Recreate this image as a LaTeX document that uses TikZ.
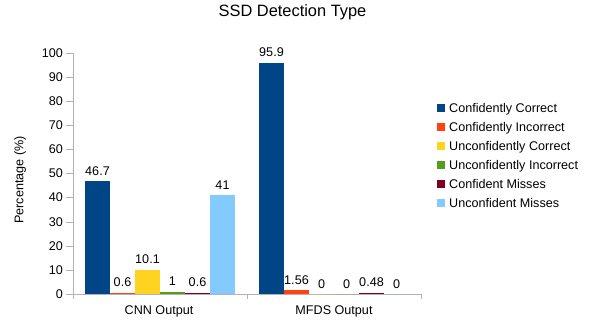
\documentclass[tikz,border=0pt]{standalone}
\usepackage{fontspec}
\setmainfont{Liberation Sans}
\usepackage{xcolor}
\definecolor{bar_blue}{HTML}{004586}
\definecolor{bar_orange}{HTML}{FF420E}
\definecolor{bar_yellow}{HTML}{FFD320}
\definecolor{bar_green}{HTML}{579D1C}
\definecolor{bar_maroon}{HTML}{7E0021}
\definecolor{bar_sky}{HTML}{83CAFF}
\definecolor{axis_gray}{HTML}{B3B3B3}

\begin{document}
\begin{tikzpicture}[x=1pt, y=1pt, font=\fontsize{12.6}{15}\selectfont,
    lbl/.style={inner sep=0pt}]
      \useasboundingbox (0,0) rectangle (593,324);
      % Title
      \node[lbl] (title) at (292.5,312) {\fontsize{16.4}{19}\selectfont SSD Detection Type};
      % Draw the axes
      \draw[axis_gray] (73,30) -- (73,271);
      \draw[axis_gray] (73,30) -- (421,30);
      % Y ticks with their values
      \foreach \v in {0,10,...,100} {
        \draw[axis_gray] (66,{30+2.41*\v}) -- (73,{30+2.41*\v});
        \node[lbl, anchor=east] (ytick\v) at (63,{30+2.41*\v}) {\v};
      }
      \node[lbl, rotate=90] (ylabel) at (20,144) {Percentage (\%)};
      % Category ticks and names
      \foreach \x in {73,247,421}
        \draw[axis_gray] (\x,30) -- (\x,25);
      \node[lbl] (cnn) at (159,13) {CNN Output};
      \node[lbl] (mfds) at (334,13) {MFDS Output};
      % Bars for CNN Output
      \foreach \col/\val [count=\i from 0] in {bar_blue/46.7, bar_orange/0.6, bar_yellow/10.1, bar_green/1, bar_maroon/0.6, bar_sky/41} {
        \fill[\col] ({85+25*\i},30) rectangle ({110+25*\i},{30+2.41*\val});
        \node[lbl, anchor=base] (cnnval\i) at ({97.5+25*\i},{36+2.41*\val}) {\val};
      }
      % Bars for MFDS Output
      \foreach \col/\val [count=\i from 0] in {bar_blue/95.9, bar_orange/1.56, bar_yellow/0, bar_green/0, bar_maroon/0.48, bar_sky/0} {
        \fill[\col] ({259+25*\i},30) rectangle ({284+25*\i},{30+2.41*\val});
        \node[lbl, anchor=base] (mfdsval\i) at ({271.5+25*\i},{36+2.41*\val}) {\val};
      }
      % Legend
      \foreach \col/\name [count=\i from 0] in {bar_blue/Confidently Correct, bar_orange/Confidently Incorrect, bar_yellow/Unconfidently Correct, bar_green/Unconfidently Incorrect, bar_maroon/Confident Misses, bar_sky/Unconfident Misses} {
        \fill[\col] (437,{212-19*\i}) rectangle +(8,8);
        \node[lbl, anchor=base west] (legend\i) at (449,{211.5-19*\i}) {\name};
      }
    \end{tikzpicture}
\end{document}
